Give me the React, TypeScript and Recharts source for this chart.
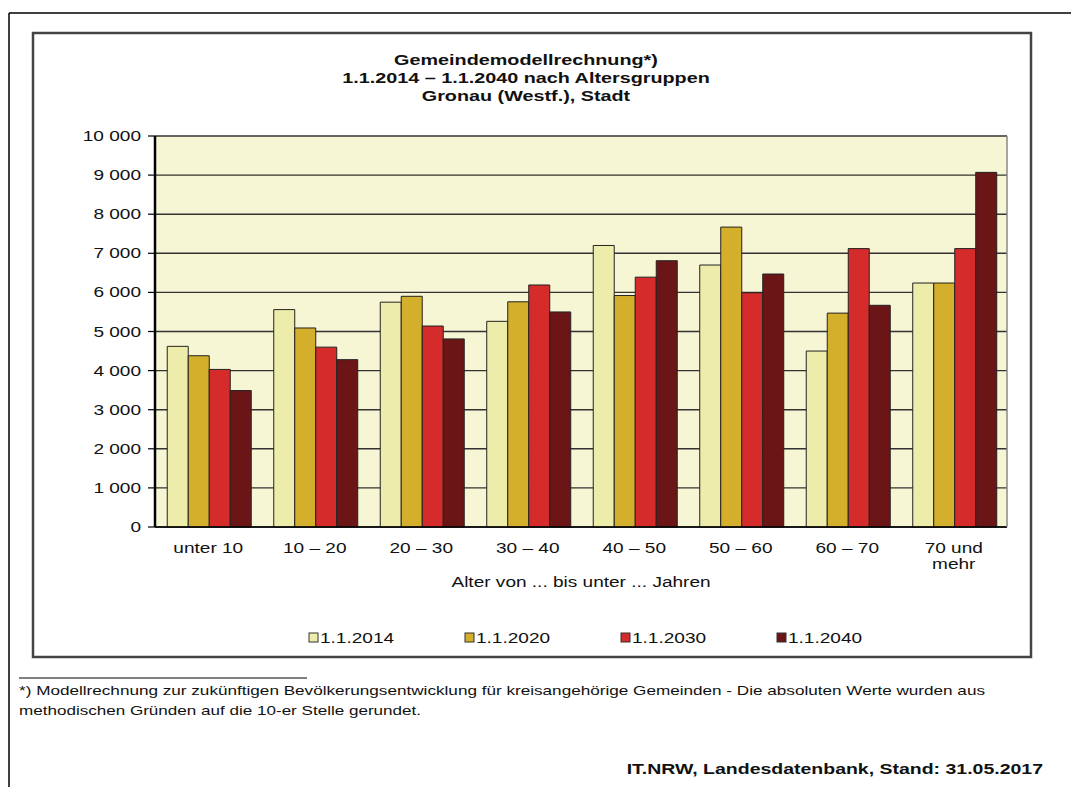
import React from "react";
import { BarChart, Bar, XAxis, YAxis, CartesianGrid } from "recharts";

const categories = ["unter 10", "10 – 20", "20 – 30", "30 – 40", "40 – 50", "50 – 60", "60 – 70", "70 und\nmehr"];
const v2014 = [4620, 5560, 5750, 5260, 7200, 6700, 4500, 6240];
const v2020 = [4380, 5090, 5900, 5760, 5920, 7670, 5470, 6240];
const v2030 = [4030, 4600, 5140, 6190, 6390, 5990, 7120, 7120];
const v2040 = [3490, 4280, 4810, 5500, 6810, 6470, 5670, 9070];
const seriesNames = ["1.1.2014", "1.1.2020", "1.1.2030", "1.1.2040"];
const seriesColors = ["#EDECAA", "#D4AF2B", "#D62B2B", "#6B1517"];
const yTicks = [0, 1000, 2000, 3000, 4000, 5000, 6000, 7000, 8000, 9000, 10000];

const titleLines = [
  "Gemeindemodellrechnung*)",
  "1.1.2014 – 1.1.2040 nach Altersgruppen",
  "Gronau (Westf.), Stadt",
];
const xAxisTitle = "Alter von ... bis unter ... Jahren";
const footnote1 = "*) Modellrechnung zur zukünftigen Bevölkerungsentwicklung für kreisangehörige Gemeinden - Die absoluten Werte wurden aus";
const footnote2 = "methodischen Gründen auf die 10-er Stelle gerundet.";
const source = "IT.NRW, Landesdatenbank, Stand: 31.05.2017";

const seriesValues = [v2014, v2020, v2030, v2040];
const data = categories.map((c, i) => {
  const row: any = { cat: c };
  seriesNames.forEach((s, j) => (row[s] = seriesValues[j][i]));
  return row;
});

const FONT = "'Liberation Sans', Arial, sans-serif";
const SX = 1.27;

const fmt = (n: number) => String(n).replace(/\B(?=(\d{3})+(?!\d))/g, " ");

const YTick = (props: any) => {
  const { x, y, payload } = props;
  return (
    <text
      transform={`translate(${x},${y}) scale(${SX},1)`}
      x={0}
      y={0}
      dy={5}
      textAnchor="end"
      fontSize={15}
      fontFamily={FONT}
      fill="#111"
    >
      {fmt(payload.value)}
    </text>
  );
};

const XTick = (props: any) => {
  const { x, y, payload } = props;
  const lines = String(payload.value).split("\n");
  return (
    <g transform={`translate(${x},${y})`}>
      {lines.map((l, i) => (
        <text
          key={i}
          transform={`scale(1.36,1)`}
          x={0}
          y={18 + i * 16}
          textAnchor="middle"
          fontSize={14}
          fontFamily={FONT}
          fill="#111"
        >
          {l}
        </text>
      ))}
    </g>
  );
};

const AxisTitle = (props: any) => {
  const vb = props.viewBox || { x: 155, y: 527, width: 852, height: 60 };
  const cx = vb.x + vb.width / 2;
  const cy = vb.y + vb.height;
  return (
    <text
      transform={`translate(${cx},${cy}) scale(${SX},1)`}
      x={0}
      y={0}
      textAnchor="middle"
      fontSize={15}
      fontFamily={FONT}
      fill="#111"
    >
      {xAxisTitle}
    </text>
  );
};

export default function App() {
  return (
    <div style={{ position: "absolute", left: 0, top: 0, width: 1071, height: 787, background: "#fff" }}>
      <svg width={1071} height={787} style={{ position: "absolute", left: 0, top: 0 }}>
        <line x1={9} y1={13} x2={1071} y2={13} stroke="#000" strokeWidth={1.5} />
        <line x1={9} y1={13} x2={9} y2={787} stroke="#000" strokeWidth={1.5} />
        <rect x={33} y={33} width={998} height={624} fill="#fff" stroke="#444" strokeWidth={2.5} />
        {titleLines.map((t, i) => (
          <text
            key={i}
            transform={`translate(526,${65 + i * 18}) scale(1.32,1)`}
            x={0}
            y={0}
            textAnchor="middle"
            fontSize={15}
            fontWeight="bold"
            fontFamily={FONT}
            fill="#111"
          >
            {t}
          </text>
        ))}
        {seriesNames.map((s, i) => (
          <g key={s}>
            <rect x={309 + i * 156} y={633} width={9} height={9} fill={seriesColors[i]} stroke="#333" strokeWidth={1} />
            <text
              transform={`translate(${320 + i * 156},643) scale(${SX},1)`}
              x={0}
              y={0}
              fontSize={15}
              fontFamily={FONT}
              fill="#111"
            >
              {s}
            </text>
          </g>
        ))}
        <line x1={19} y1={678} x2={307} y2={678} stroke="#000" strokeWidth={1} />
        <text x={19} y={695} fontSize={13} fontFamily={FONT} fill="#111" textLength={966} lengthAdjust="spacingAndGlyphs">
          {footnote1}
        </text>
        <text x={19} y={715} fontSize={13} fontFamily={FONT} fill="#111" textLength={402} lengthAdjust="spacingAndGlyphs">
          {footnote2}
        </text>
        <text
          transform={`translate(1043,774) scale(1.3,1)`}
          x={0}
          y={0}
          textAnchor="end"
          fontSize={15}
          fontWeight="bold"
          fontFamily={FONT}
          fill="#111"
        >
          {source}
        </text>
      </svg>
      <div style={{ position: "absolute", left: 0, top: 0 }}>
        <BarChart
          width={1071}
          height={787}
          data={data}
          margin={{ top: 136, right: 63, bottom: 200, left: 85 }}
          barCategoryGap="11.5%"
          barGap={0}
        >
          <CartesianGrid horizontal vertical={false} fill="#F6F5D4" stroke="#333" strokeWidth={1.4} />
          <XAxis
            dataKey="cat"
            height={60}
            interval={0}
            tickLine={false}
            axisLine={{ stroke: "#000", strokeWidth: 1.5 }}
            tick={<XTick />}
            label={<AxisTitle />}
          />
          <YAxis
            width={70}
            domain={[0, 10000]}
            ticks={yTicks}
            interval={0}
            tickSize={7}
            tickMargin={7}
            axisLine={{ stroke: "#000", strokeWidth: 2.5 }}
            tickLine={{ stroke: "#000", strokeWidth: 1.2 }}
            tick={<YTick />}
          />
          <YAxis
            yAxisId="r"
            orientation="right"
            width={1}
            domain={[0, 10000]}
            tick={false}
            tickLine={false}
            axisLine={{ stroke: "#888", strokeWidth: 1.5 }}
          />
          {seriesNames.map((s, i) => (
            <Bar key={s} dataKey={s} fill={seriesColors[i]} stroke="#222" strokeWidth={1} isAnimationActive={false} />
          ))}
        </BarChart>
      </div>
    </div>
  );
}
